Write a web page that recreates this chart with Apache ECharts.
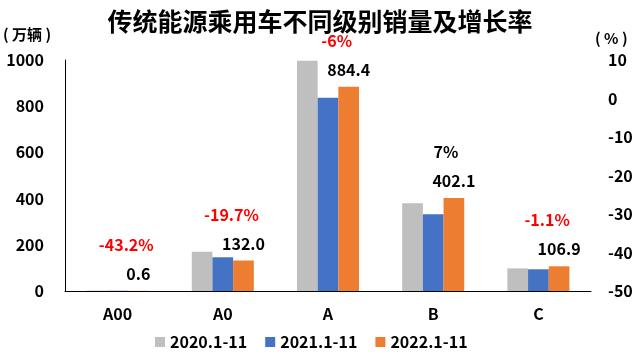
<!DOCTYPE html>
<html><head><meta charset="utf-8">
<script src="https://cdn.jsdelivr.net/npm/echarts@6/dist/echarts.min.js"></script>
<style>html,body{margin:0;padding:0;background:#fff}#c{width:640px;height:357px}</style>
</head><body><div id="c"></div>
<script>
const categories = ['A00', 'A0', 'A', 'B', 'C'];
const seriesNames = ['2020.1-11', '2021.1-11', '2022.1-11'];
const sales2020 = [1.5, 170, 997, 380, 98];
const sales2021 = [1.1, 146, 837, 332, 94];
const sales2022 = [0.6, 132.0, 884.4, 402.1, 106.9];
const growth = ['-43.2%', '-19.7%', '-6%', '7%', '-1.1%'];
const leftTicks = {min: 0, max: 1000, interval: 200};
const rightTicks = {min: -50, max: 10, interval: 10};

const FONT = '"Noto Sans CJK SC", "Noto Sans", sans-serif';
const chart = echarts.init(document.getElementById('c'));
const colors = ['#BFBFBF', '#4472C4', '#ED7D31'];

const lastData = sales2022.map((v, i) => ({
  value: v,
  label: {
    show: true,
    position: 'top',
    distance: 6,
    formatter: '{' + (growth[i].startsWith('-') ? 'gn' : 'gp') + '|' + growth[i] + '}\n{v|' + v.toFixed(1) + '}',
    rich: {
      gn: {color: '#FF0000', fontSize: 16, fontWeight: 'bold', fontFamily: FONT, lineHeight: 36, padding: [0, 24, 0, 0]},
      gp: {color: '#000', fontSize: 16, fontWeight: 'bold', fontFamily: FONT, lineHeight: 36, padding: [0, 16, 0, 0]},
      v: {color: '#000', fontSize: 16, fontWeight: 'bold', fontFamily: FONT, lineHeight: 22}
    }
  }
}));

chart.setOption({
  animation: false,
  color: colors,
  title: {
    text: '传统能源乘用车不同级别销量及增长率',
    left: 'center', top: 4,
    textStyle: {fontFamily: FONT, fontSize: 25, fontWeight: 'bold', color: '#000'}
  },
  legend: {
    bottom: 2, left: 150,
    itemWidth: 10, itemHeight: 10, itemGap: 18,
    icon: 'rect',
    textStyle: {fontFamily: FONT, fontSize: 16, fontWeight: 'bold', color: '#000'},
    data: seriesNames
  },
  grid: {left: 64, right: 49, top: 60, bottom: 66},
  xAxis: {
    type: 'category', data: categories,
    axisLine: {lineStyle: {color: '#000', width: 1}},
    axisTick: {show: false},
    axisLabel: {fontFamily: FONT, fontSize: 16, fontWeight: 'bold', color: '#000', margin: 15}
  },
  yAxis: [{
    type: 'value', min: leftTicks.min, max: leftTicks.max, interval: leftTicks.interval,
    name: '( 万辆 )', nameLocation: 'end', nameGap: 18,
    nameTextStyle: {fontFamily: FONT, fontSize: 15, fontWeight: 'bold', color: '#000', align: 'left', padding: [0, 0, 0, -62]},
    axisLine: {show: true, lineStyle: {color: '#000'}},
    axisTick: {show: false},
    splitLine: {show: false},
    axisLabel: {fontFamily: FONT, fontSize: 16, fontWeight: 'bold', color: '#000', margin: 21, formatter: v => String(v)}
  }, {
    type: 'value', min: rightTicks.min, max: rightTicks.max, interval: rightTicks.interval,
    name: '( % )', nameLocation: 'end', nameGap: 14,
    nameTextStyle: {fontFamily: FONT, fontSize: 15, fontWeight: 'bold', color: '#000', align: 'left', padding: [0, 0, 0, 4]},
    axisLine: {show: false},
    axisTick: {show: false},
    splitLine: {show: false},
    axisLabel: {fontFamily: FONT, fontSize: 16, fontWeight: 'bold', color: '#000', margin: 17, align: 'left', formatter: v => String(v)}
  }],
  series: [
    {name: seriesNames[0], type: 'bar', data: sales2020, barGap: '0%', barCategoryGap: '41%'},
    {name: seriesNames[1], type: 'bar', data: sales2021, barGap: '0%', barCategoryGap: '41%'},
    {name: seriesNames[2], type: 'bar', data: lastData, barGap: '0%', barCategoryGap: '41%'}
  ]
});
</script></body></html>
